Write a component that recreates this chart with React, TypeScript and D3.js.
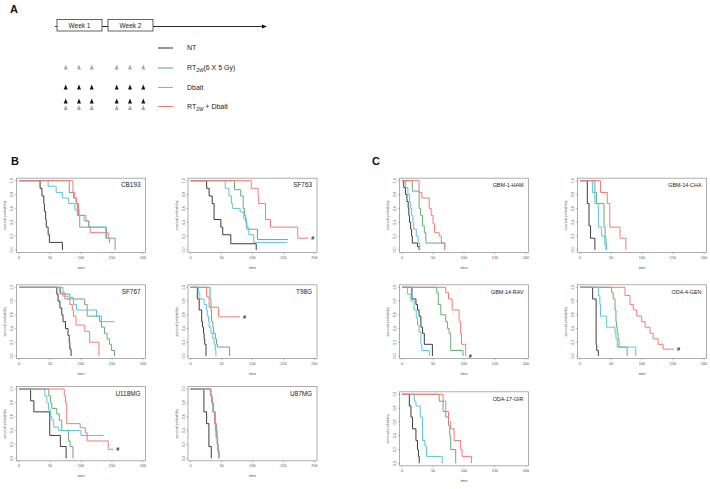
import React from 'react';
import * as d3 from 'd3';

type Pt = [number, number];

// ---------- data (time, survival after the step) ----------
const xTicks = [0, 50, 100, 150, 200];
const yTicks = [0, 0.2, 0.4, 0.6, 0.8, 1.0];
const seriesKeys = ['NT', 'RT', 'DB', 'RTDB'];
const seriesColors = ['#3c3c3c', '#68ab77', '#5cc4dc', '#f07c7c'];

const CB193 = {
  NT: [[34, 0.89], [37, 0.78], [40, 0.67], [41, 0.56], [43, 0.44], [44, 0.33], [47, 0.22], [49, 0.11], [70, 0]] as Pt[],
  DB: [[47, 0.92], [60, 0.83], [70, 0.75], [80, 0.67], [90, 0.58], [97, 0.5], [105, 0.42], [112, 0.33], [140, 0.17], [145, 0.17]] as Pt[],
  RT: [[81, 0.83], [88, 0.75], [92, 0.67], [94, 0.5], [98, 0.33], [141, 0.17], [155, 0]] as Pt[],
  RTDB: [[87, 0.83], [90, 0.75], [93, 0.67], [96, 0.5], [108, 0.42], [113, 0.33], [115, 0.25], [144, 0.17], [146, 0.1]] as Pt[],
};
const SF763 = {
  NT: [[26, 0.89], [30, 0.78], [35, 0.67], [38, 0.44], [49, 0.33], [52, 0.22], [65, 0.09], [106, 0]] as Pt[],
  DB: [[56, 0.89], [62, 0.78], [66, 0.67], [68, 0.6], [80, 0.55], [86, 0.45], [90, 0.33], [94, 0.22], [102, 0.11], [156, 0.11]] as Pt[],
  RT: [[71, 0.87], [81, 0.78], [85, 0.6], [87, 0.5], [89, 0.4], [91, 0.3], [102, 0.3], [108, 0.15], [157, 0.15]] as Pt[],
  RTDB: [[98, 0.89], [109, 0.78], [110, 0.67], [121, 0.44], [129, 0.33], [173, 0.17], [190, 0.17]] as Pt[],
};
const SF767 = {
  NT: [[61, 0.9], [63, 0.8], [66, 0.7], [69, 0.6], [71, 0.5], [75, 0.4], [79, 0.3], [81, 0.2], [82, 0.1], [84, 0]] as Pt[],
  DB: [[71, 0.87], [79, 0.83], [88, 0.75], [93, 0.67], [125, 0.58], [133, 0.5], [154, 0.5]] as Pt[],
  RT: [[67, 0.9], [82, 0.85], [87, 0.83], [106, 0.75], [110, 0.58], [130, 0.5], [133, 0.42], [138, 0.33], [142, 0.25], [146, 0.17], [149, 0.08], [154, 0]] as Pt[],
  RTDB: [[65, 0.92], [74, 0.83], [82, 0.75], [86, 0.67], [88, 0.58], [92, 0.45], [106, 0.36], [114, 0.2], [129, 0]] as Pt[],
};
const T98G = {
  NT: [[11, 0.83], [14, 0.67], [18, 0.5], [19.5, 0.42], [21, 0.33], [22, 0.25], [23, 0.17], [25, 0]] as Pt[],
  DB: [[12.5, 0.92], [15, 0.83], [22, 0.75], [26, 0.67], [27, 0.58], [29, 0.5], [30, 0.42], [33, 0.33], [36, 0.25], [38, 0.17], [40, 0.08], [41, 0]] as Pt[],
  RT: [[31.5, 0.83], [33, 0.67], [34, 0.5], [36, 0.42], [37, 0.33], [40, 0.25], [42, 0.17], [43.5, 0.13], [63, 0]] as Pt[],
  RTDB: [[26, 0.86], [30, 0.71], [45, 0.57], [80, 0.57]] as Pt[],
};
const U118MG = {
  NT: [[18.7, 0.83], [24, 0.67], [49.6, 0.33], [66.7, 0.17], [76, 0]] as Pt[],
  DB: [[41.6, 0.9], [45, 0.8], [47.5, 0.7], [50.7, 0.6], [53, 0.55], [56, 0.45], [64, 0.4], [100, 0.33], [137, 0.33]] as Pt[],
  RT: [[48, 0.9], [51, 0.8], [53, 0.72], [61, 0.64], [65, 0.55], [69, 0.4], [80, 0.25], [82.5, 0.17], [87, 0]] as Pt[],
  RTDB: [[73, 0.9], [75, 0.8], [77, 0.5], [98.7, 0.44], [107, 0.37], [110, 0.25], [144, 0.13], [152, 0.13]] as Pt[],
};
const U87MG = {
  NT: [[21.6, 0.67], [26, 0.5], [29.7, 0.17], [33.5, 0]] as Pt[],
  DB: [[33, 0.9], [35, 0.8], [37, 0.67], [39, 0.5], [41, 0.4], [42, 0.3], [43, 0.2], [44, 0.1], [45, 0]] as Pt[],
  RT: [[32, 0.9], [34, 0.8], [36, 0.67], [40, 0.5], [42, 0.4], [43, 0.3], [44, 0.2], [45, 0.1], [46, 0]] as Pt[],
  RTDB: [[33, 0.9], [35, 0.8], [37, 0.67], [39, 0.5], [40, 0.4], [41, 0.3], [43, 0.2], [44.5, 0.1], [46, 0]] as Pt[],
};
const GBM1HAM = {
  NT: [[2.8, 0.9], [5.5, 0.8], [8, 0.7], [10, 0.6], [11, 0.5], [12, 0.4], [14, 0.3], [15.5, 0.2], [16.6, 0.1], [25, 0.05], [27.6, 0]] as Pt[],
  DB: [[6, 0.9], [9.5, 0.8], [12, 0.7], [13.5, 0.6], [15.5, 0.5], [17.5, 0.4], [19, 0.3], [23, 0.2], [26, 0.1], [28.7, 0]] as Pt[],
  RT: [[16.6, 0.85], [27.6, 0.6], [30, 0.5], [33, 0.35], [36, 0.25], [38.5, 0.1], [69, 0]] as Pt[],
  RTDB: [[27.6, 0.83], [32, 0.75], [44, 0.6], [47, 0.5], [50, 0.38], [52.5, 0.25], [60, 0.2], [63.5, 0.1], [69, 0]] as Pt[],
};
const GBM14CHA = {
  NT: [[11.8, 0.67], [14.5, 0.35], [17, 0.17], [24, 0]] as Pt[],
  DB: [[20, 0.83], [24, 0.67], [29.6, 0.33], [35, 0.2], [40, 0.08], [43, 0]] as Pt[],
  RT: [[24, 0.83], [26.5, 0.67], [38.7, 0.33], [40.5, 0.17], [42, 0]] as Pt[],
  RTDB: [[33, 0.83], [44, 0.67], [48, 0.33], [64.5, 0.17], [74, 0]] as Pt[],
};
const GBM14RAV = {
  NT: [[16, 0.83], [22.5, 0.75], [25, 0.67], [27.5, 0.58], [30.5, 0.42], [33, 0.33], [36, 0.17], [49, 0]] as Pt[],
  DB: [[9, 0.9], [14.4, 0.8], [19.5, 0.67], [23, 0.55], [25, 0.45], [27.5, 0.35], [30.5, 0.17], [32, 0.08], [44, 0]] as Pt[],
  RT: [[56, 0.92], [58.5, 0.75], [62.6, 0.6], [70.6, 0.5], [73.5, 0.4], [76, 0.33], [78.6, 0.08], [98.4, 0]] as Pt[],
  RTDB: [[70.6, 0.92], [75, 0.83], [81, 0.67], [92, 0.5], [94.5, 0.33], [96, 0.17], [102.7, 0]] as Pt[],
};
const ODA4GEN = {
  NT: [[20.4, 0.83], [26, 0.17], [27, 0.08], [29.6, 0]] as Pt[],
  DB: [[29.6, 0.88], [32, 0.75], [33, 0.58], [43, 0.42], [56.5, 0.33], [58, 0.25], [60, 0.13], [90, 0]] as Pt[],
  RT: [[51, 0.92], [53.5, 0.83], [56.5, 0.67], [58, 0.5], [59, 0.42], [60, 0.33], [61.5, 0.25], [63, 0.13], [76, 0]] as Pt[],
  RTDB: [[72.6, 0.88], [80.6, 0.75], [86, 0.67], [91.4, 0.58], [99.5, 0.5], [105, 0.42], [113, 0.33], [118, 0.25], [126, 0.17], [134, 0.1], [151.6, 0.1]] as Pt[],
};
const ODA17GIR = {
  NT: [[11.8, 0.83], [14.5, 0.67], [17, 0.5], [22.5, 0.33], [25, 0.2], [26.5, 0.1], [27.8, 0]] as Pt[],
  DB: [[19.8, 0.9], [22.5, 0.83], [29.4, 0.67], [33, 0.33], [37, 0.25], [39.6, 0.1], [65, 0]] as Pt[],
  RT: [[60, 0.9], [66.3, 0.75], [70.6, 0.67], [75, 0.55], [77, 0.4], [78.6, 0.2], [86.6, 0]] as Pt[],
  RTDB: [[66.3, 0.9], [70.6, 0.75], [75, 0.6], [78.6, 0.5], [84, 0.33], [94.6, 0.2], [97, 0.1], [112, 0]] as Pt[],
};

// ---------- layout ----------
type PanelDef = { title: string; data: Record<string, Pt[]>; x0: number; yTop: number; yBot: number; hash?: boolean; big?: boolean };
const panels: PanelDef[] = [
  { title: 'CB193', data: CB193, x0: 19, yTop: 180.7, yBot: 250, big: true },
  { title: 'SF763', data: SF763, x0: 190.5, yTop: 180.7, yBot: 250, hash: true, big: true },
  { title: 'SF767', data: SF767, x0: 19, yTop: 287.3, yBot: 356, big: true },
  { title: 'T98G', data: T98G, x0: 190.5, yTop: 287.3, yBot: 356, hash: true, big: true },
  { title: 'U118MG', data: U118MG, x0: 19, yTop: 389, yBot: 458.3, hash: true, big: true },
  { title: 'U87MG', data: U87MG, x0: 190.5, yTop: 389, yBot: 458.3, big: true },
  { title: 'GBM-1-HAM', data: GBM1HAM, x0: 402, yTop: 180.7, yBot: 250 },
  { title: 'GBM-14-CHA', data: GBM14CHA, x0: 580, yTop: 180.7, yBot: 250 },
  { title: 'GBM-14-RAV', data: GBM14RAV, x0: 402, yTop: 287.3, yBot: 356, hash: true },
  { title: 'ODA-4-GEN', data: ODA4GEN, x0: 580, yTop: 287.3, yBot: 356, hash: true },
  { title: 'ODA-17-GIR', data: ODA17GIR, x0: 402, yTop: 394.3, yBot: 463.3 },
];

const FONT = "'Liberation Sans', Arial, sans-serif";
const PW = 124;

function Panel({ p }: { p: PanelDef }) {
  const x = d3.scaleLinear().domain([0, 200]).range([p.x0, p.x0 + PW]);
  const y = d3.scaleLinear().domain([0, 1]).range([p.yBot, p.yTop]);
  const pad = 2.5;
  const bx0 = x(0) - pad, bx1 = x(200) + pad, by0 = y(1) - pad, by1 = y(0) + pad;
  const line = d3.line<Pt>().x(d => x(d[0])).y(d => y(d[1])).curve(d3.curveStepAfter);
  const tickCol = '#666';
  const red = p.data.RTDB;
  const last = red[red.length - 1];
  return (
    <g>
      <rect x={bx0} y={by0} width={bx1 - bx0} height={by1 - by0} fill="none" stroke="#9a9a9a" strokeWidth={0.8} />
      {xTicks.map(t => (
        <g key={'x' + t}>
          <line x1={x(t)} x2={x(t)} y1={by1} y2={by1 + 1.8} stroke={tickCol} strokeWidth={0.4} />
          <text x={x(t)} y={by1 + 6.3} fontSize={3.8} textAnchor="middle" fill="#555" fontFamily={FONT}>{t}</text>
        </g>
      ))}
      {yTicks.map(t => (
        <g key={'y' + t}>
          <line x1={bx0 - 1.8} x2={bx0} y1={y(t)} y2={y(t)} stroke={tickCol} strokeWidth={0.4} />
          <text transform={`translate(${bx0 - 3.2},${y(t)}) rotate(-90)`} fontSize={3.6} textAnchor="middle" fill="#555" fontFamily={FONT}>{t.toFixed(1)}</text>
        </g>
      ))}
      <text x={(bx0 + bx1) / 2} y={by1 + 16} fontSize={3.8} textAnchor="middle" fill="#555" fontFamily={FONT}>time</text>
      <text transform={`translate(${bx0 - 10.5},${(by0 + by1) / 2}) rotate(-90)`} fontSize={3.6} textAnchor="middle" fill="#555" fontFamily={FONT}>survival probability</text>
      {seriesKeys.map((k, i) => (
        <path key={k} d={line([[0, 1], ...p.data[k]]) || ''} fill="none" stroke={seriesColors[i]} strokeWidth={1} />
      ))}
      <text x={bx1 - 5} y={by0 + 9} fontSize={p.big ? 6.4 : 5.4} textAnchor="end" fill="#222" fontFamily={FONT}>{p.title}</text>
      {p.hash && (
        <text x={x(last[0]) + 3} y={y(last[1]) + 2} fontSize={5.5} fontWeight="bold" fill="#222" fontFamily={FONT}>#</text>
      )}
    </g>
  );
}

const weekBoxes = [{ label: 'Week 1', x0: 57, x1: 102 }, { label: 'Week 2', x0: 108, x1: 153 }];
const triX = [65.7, 79, 91.7, 116.7, 130, 143.3];

function Tri({ cx, cy, fill }: { cx: number; cy: number; fill: string }) {
  return <path d={`M${cx - 2},${cy + 2.5} L${cx + 2},${cy + 2.5} L${cx},${cy - 2.5} Z`} fill={fill} />;
}

export default function App() {
  const legendY = [48, 68, 87.5, 106.5];
  return (
    <svg width={710} height={489} style={{ position: 'absolute', left: 0, top: 0, background: '#fff' }} fontFamily={FONT}>
      <rect width={710} height={489} fill="#fff" />
      {/* Panel A */}
      <text x={10} y={12.5} fontSize={11} fontWeight="bold" fill="#111">A</text>
      <line x1={55} x2={263} y1={26.5} y2={26.5} stroke="#111" strokeWidth={0.9} />
      <path d="M267,26.5 L262,24.5 L262,28.5 Z" fill="#111" />
      {weekBoxes.map(w => (
        <g key={w.label}>
          <rect x={w.x0} y={19.5} width={w.x1 - w.x0} height={11.5} fill="#fff" stroke="#222" strokeWidth={0.7} />
          <text x={(w.x0 + w.x1) / 2} y={27.8} fontSize={6.5} textAnchor="middle" fill="#222">{w.label}</text>
        </g>
      ))}
      {seriesColors.map((c, i) => (
        <line key={i} x1={158} x2={173} y1={legendY[i]} y2={legendY[i]} stroke={c} strokeWidth={1.1} />
      ))}
      <text x={187} y={legendY[0] + 2.3} fontSize={7} fill="#222">NT</text>
      <text x={187} y={legendY[1] + 2.3} fontSize={7} fill="#222">RT<tspan fontSize={4.8} dy={1.8}>2W</tspan><tspan dy={-1.8}>(6 X 5 Gy)</tspan></text>
      <text x={187} y={legendY[2] + 2.3} fontSize={7} fill="#222">Dbait</text>
      <text x={187} y={legendY[3] + 2.3} fontSize={7} fill="#222">RT<tspan fontSize={4.8} dy={1.8}>2W</tspan><tspan dy={-1.8}>  + Dbait</tspan></text>
      {triX.map((tx, i) => (
        <g key={i}>
          <Tri cx={tx} cy={67} fill="#a8a8a8" />
          <Tri cx={tx} cy={87} fill="#111" />
          <Tri cx={tx} cy={107.5} fill="#a8a8a8" />
          <Tri cx={tx} cy={101} fill="#111" />
        </g>
      ))}
      {/* Panel labels */}
      <text x={11} y={164.5} fontSize={11} fontWeight="bold" fill="#111">B</text>
      <text x={372} y={164.5} fontSize={11} fontWeight="bold" fill="#111">C</text>
      {panels.map(p => <Panel key={p.title} p={p} />)}
    </svg>
  );
}
